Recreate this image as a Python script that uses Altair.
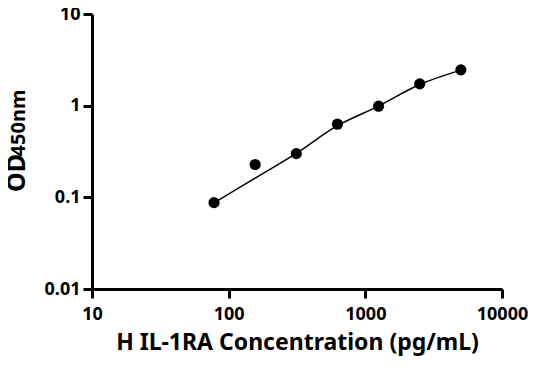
import altair as alt
import pandas as pd

# Measured standards
conc = [78.125, 156.25, 312.5, 625, 1250, 2500, 5000]
od = [0.0875, 0.228, 0.300, 0.628, 0.987, 1.73, 2.46]

# Fitted curve
curve_conc = [78.125, 156.25, 312.5, 625, 1250, 2500, 5000]
curve_od = [0.087, 0.162, 0.302, 0.605, 0.99, 1.70, 2.44]

x_ticks = [10, 100, 1000, 10000]
y_ticks = [0.01, 0.1, 1, 10]

FONT = "Noto Sans"

pts = pd.DataFrame({"conc": conc, "od": od})
crv = pd.DataFrame({"conc": curve_conc, "od": curve_od})

xscale = alt.Scale(type="log", domain=[10, 10000], nice=False)
yscale = alt.Scale(type="log", domain=[0.01, 10], nice=False)

xaxis = alt.Axis(
    values=x_ticks, format="d", title="H IL-1RA Concentration (pg/mL)",
    titleFont=FONT, titleFontSize=23, titleFontWeight="bold", titleColor="black",
    titlePadding=8,
    labelFont=FONT, labelFontSize=18, labelFontWeight="bold", labelColor="black",
    labelPadding=7, labelFlush=False, labelOverlap=False,
    domainColor="black", domainWidth=3, tickColor="black", tickWidth=3, tickSize=9,
    grid=False,
)
yaxis = alt.Axis(
    values=y_ticks, format="~g", title=None,
    labelFont=FONT, labelFontSize=18, labelFontWeight="bold", labelColor="black",
    labelPadding=3, labelFlush=False, labelOverlap=False,
    domainColor="black", domainWidth=3, tickColor="black", tickWidth=3, tickSize=9,
    grid=False,
)

line = alt.Chart(crv).mark_line(color="black", strokeWidth=1.5, interpolate="catmull-rom").encode(
    x=alt.X("conc:Q", scale=xscale, axis=xaxis),
    y=alt.Y("od:Q", scale=yscale, axis=yaxis),
)
points = alt.Chart(pts).mark_circle(color="black", opacity=1, size=125).encode(
    x=alt.X("conc:Q", scale=xscale),
    y=alt.Y("od:Q", scale=yscale),
)

t_od = alt.Chart(pd.DataFrame({"t": ["OD"]})).mark_text(
    font=FONT, fontSize=25, fontWeight="bold", color="black", angle=270,
    align="center", baseline="alphabetic",
).encode(text="t:N", x=alt.value(-67), y=alt.value(159))
t_sub = alt.Chart(pd.DataFrame({"t": ["450nm"]})).mark_text(
    font=FONT, fontSize=20, fontWeight="bold", color="black", angle=270,
    align="center", baseline="alphabetic",
).encode(text="t:N", x=alt.value(-67), y=alt.value(109))

chart = alt.layer(line, points, t_od, t_sub).properties(
    width=410, height=275,
    autosize=alt.AutoSizeParams(type="none"),
    padding={"left": 84, "top": 6, "right": 26, "bottom": 74},
    background="white",
).configure_view(stroke=None)

chart.save("out.html", embed_options={"renderer": "svg", "actions": False})
